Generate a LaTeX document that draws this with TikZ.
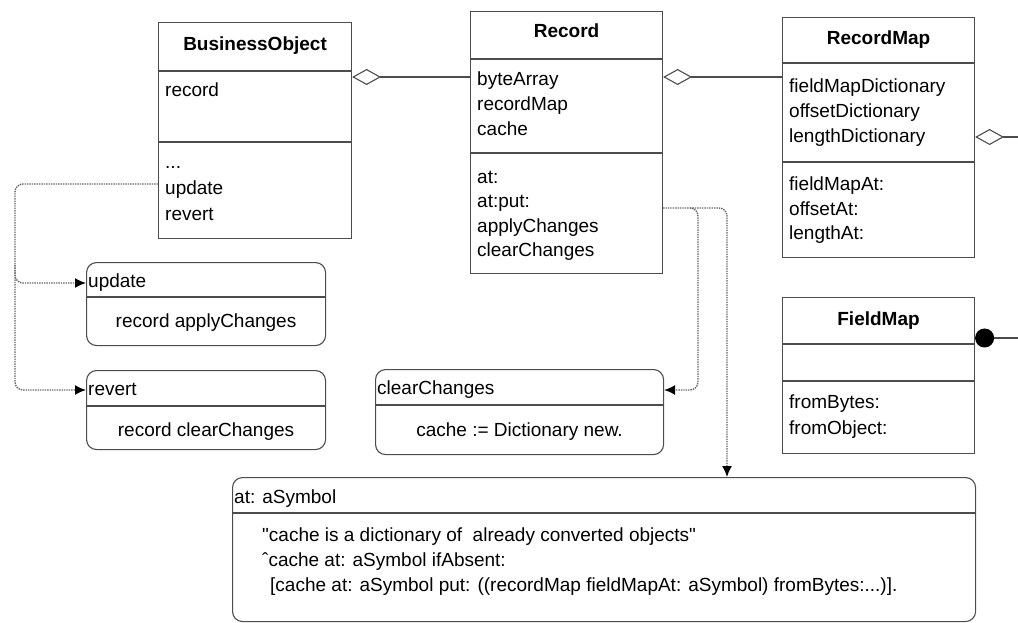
\documentclass[tikz,border=0pt]{standalone}
\usepackage{fontspec}
\setmainfont{Liberation Sans}[Ligatures=TeXOff]
\usetikzlibrary{arrows.meta}
\begin{document}
\begin{tikzpicture}[x=1pt,y=-1pt,
  font=\fontsize{19}{23}\selectfont,
  boxline/.style={draw=black!70, line width=1.1pt},
  umlbox/.style={boxline, rectangle, anchor=north west, inner sep=0pt},
  rbox/.style={umlbox, rounded corners=10pt},
  title/.style={inner sep=0pt, anchor=base, font=\fontsize{19}{23}\selectfont\bfseries},
  txt/.style={inner sep=0pt, anchor=base west},
  agg/.style={boxline, {Diamond[open,length=29pt,width=16pt,line width=1.1pt]}-},
  comp/.style={boxline, {Circle[length=19pt,fill=black,color=black]}-},
  dep/.style={draw=black!60, line width=1.4pt, densely dotted, rounded corners=8pt,
              -{Latex[length=11pt,width=10pt,color=black]}}
]
\useasboundingbox (0,0) rectangle (1018,623);

% ---------- BusinessObject
\node[umlbox, minimum width=193pt, minimum height=216pt] (bo) at (158,22) {};
\draw[boxline] (bo.west |- 0,71) -- (bo.east |- 0,71);
\draw[boxline] (bo.west |- 0,142) -- (bo.east |- 0,142);
\node[title] (bo-n) at (bo.center |- 0,51) {BusinessObject};
\node[txt] (bo-a1) at (165,97) {record};
\node[txt] (bo-m1) at (165,169) {...};
\node[txt] (bo-m2) at (165,195) {update};
\node[txt] (bo-m3) at (165,221) {revert};

% ---------- Record
\node[umlbox, minimum width=192pt, minimum height=262pt] (rec) at (470,11) {};
\draw[boxline] (rec.west |- 0,59) -- (rec.east |- 0,59);
\draw[boxline] (rec.west |- 0,153) -- (rec.east |- 0,153);
\node[title] (rec-n) at (rec.center |- 0,38) {Record};
\node[txt] (rec-a1) at (477,86) {byteArray};
\node[txt] (rec-a2) at (477,111) {recordMap};
\node[txt] (rec-a3) at (477,136) {cache};
\node[txt] (rec-m1) at (477,183) {at:};
\node[txt] (rec-m2) at (477,207.5) {at:put:};
\node[txt] (rec-m3) at (477,232) {applyChanges};
\node[txt] (rec-m4) at (477,256.5) {clearChanges};

% ---------- RecordMap
\node[umlbox, minimum width=192pt, minimum height=240pt] (rmap) at (782,17) {};
\draw[boxline] (rmap.west |- 0,63) -- (rmap.east |- 0,63);
\draw[boxline] (rmap.west |- 0,162) -- (rmap.east |- 0,162);
\node[title] (rmap-n) at (rmap.center |- 0,45) {RecordMap};
\node[txt] (rmap-a1) at (789,93) {fieldMapDictionary};
\node[txt] (rmap-a2) at (789,118) {offsetDictionary};
\node[txt] (rmap-a3) at (789,143) {lengthDictionary};
\node[txt] (rmap-m1) at (789,190) {fieldMapAt:};
\node[txt] (rmap-m2) at (789,215) {offsetAt:};
\node[txt] (rmap-m3) at (789,239) {lengthAt:};

% ---------- FieldMap
\node[umlbox, minimum width=192pt, minimum height=156pt] (fmap) at (782,297) {};
\draw[boxline] (fmap.west |- 0,344) -- (fmap.east |- 0,344);
\draw[boxline] (fmap.west |- 0,381) -- (fmap.east |- 0,381);
\node[title] (fmap-n) at (fmap.center |- 0,325) {FieldMap};
\node[txt] (fmap-m1) at (789,408) {fromBytes:};
\node[txt] (fmap-m2) at (789,434) {fromObject:};

% ---------- method boxes
\node[rbox, minimum width=239pt, minimum height=83pt] (upd) at (86,262) {};
\draw[boxline] (upd.west |- 0,297) -- (upd.east |- 0,297);
\node[txt] (upd-n) at (88,287) {update};
\node[inner sep=0pt, anchor=base] (upd-b) at (upd.center |- 0,327) {record applyChanges};

\node[rbox, minimum width=239pt, minimum height=79pt] (rev) at (86,370) {};
\draw[boxline] (rev.west |- 0,406) -- (rev.east |- 0,406);
\node[txt] (rev-n) at (88,395) {revert};
\node[inner sep=0pt, anchor=base] (rev-b) at (rev.center |- 0,436) {record clearChanges};

\node[rbox, minimum width=288pt, minimum height=85pt] (clr) at (375,369) {};
\draw[boxline] (clr.west |- 0,405) -- (clr.east |- 0,405);
\node[txt] (clr-n) at (377,394) {clearChanges};
\node[inner sep=0pt, anchor=base] (clr-b) at (clr.center |- 0,436) {cache := Dictionary new.};

\node[rbox, minimum width=743pt, minimum height=144pt] (atb) at (232,477) {};
\draw[boxline] (atb.west |- 0,513) -- (atb.east |- 0,513);
\node[txt] (atb-n) at (234,503) {at: aSymbol};
\node[txt] (atb-l1) at (262,541) {"cache is a dictionary of\ \ already converted objects"};
\node[txt] (atb-l2) at (262,566) {ˆcache at: aSymbol ifAbsent:};
\node[txt] (atb-l3) at (270,591) {[cache at: aSymbol put: ((recordMap fieldMapAt: aSymbol) fromBytes:...)].};

% ---------- connectors
\draw[agg] (bo.east |- 0,77) -- (rec.west |- 0,77);
\draw[agg] (rec.east |- 0,77) -- (rmap.west |- 0,77);
\coordinate (edgeA) at (1018,137);
\draw[agg] (rmap.east |- edgeA) -- (edgeA);
\coordinate (edgeB) at (1018,338);
\draw[comp] (fmap.east |- edgeB) -- (edgeB);

\draw[dep] (bo.west |- 0,184) -- (15,184) -- (15,283) -- (upd.west |- 0,283);
\draw[dep] (15,265) -- (15,390) -- (rev.west |- 0,390);
\draw[dep] (rec.east |- 0,208) -- (698,208) -- (698,390) -- (clr.east |- 0,390);
\draw[dep] (690,208) -- (727,208) -- (atb.north -| 727,0);
\end{tikzpicture}
\end{document}
